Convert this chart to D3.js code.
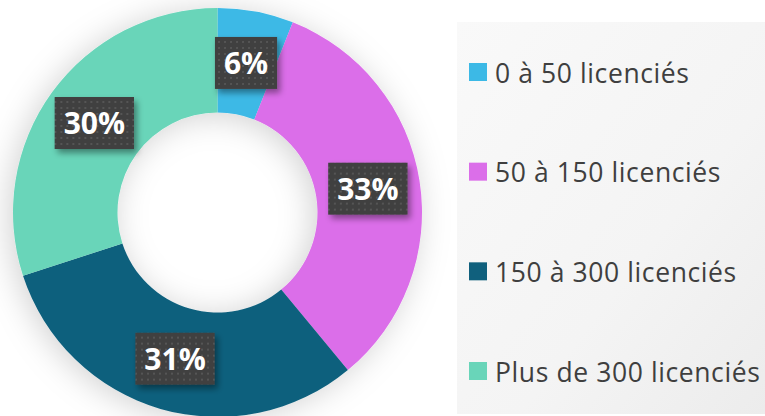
<!DOCTYPE html>
<html>
<head>
<meta charset="utf-8">
<script src="https://cdn.jsdelivr.net/npm/d3@7"></script>
<style>
  body { margin: 0; background: #ffffff; }
  svg { display: block; }
</style>
</head>
<body>
<script>
var w = 765;
var h = 416;

// categories, values and colours
var categories = ["0 à 50 licenciés", "50 à 150 licenciés", "150 à 300 licenciés", "Plus de 300 licenciés"];
var values = [6, 33, 31, 30];
var colors = ["#3cb9e6", "#db6ee9", "#10607d", "#69d5b9"];

var cx = 217.5, cy = 212.5;
var outerR = 204.5, innerR = 100;

var svg = d3.select("body")
            .append("svg")
            .attr("width", w)
            .attr("height", h);

var defs = svg.append("defs");

// soft grey glow around the ring
var glow = defs.append("filter")
    .attr("id", "glow")
    .attr("x", "-40%").attr("y", "-40%")
    .attr("width", "180%").attr("height", "180%");
glow.append("feDropShadow")
    .attr("dx", -4).attr("dy", 3)
    .attr("stdDeviation", 16)
    .attr("flood-color", "#000")
    .attr("flood-opacity", 0.18);

// drop shadow under the label boxes
var boxShadow = defs.append("filter")
    .attr("id", "boxShadow")
    .attr("x", "-30%").attr("y", "-30%")
    .attr("width", "160%").attr("height", "160%");
boxShadow.append("feDropShadow")
    .attr("dx", 3).attr("dy", 4)
    .attr("stdDeviation", 3)
    .attr("flood-color", "#000")
    .attr("flood-opacity", 0.4);

// dotted fill of the label boxes
var dots = defs.append("pattern")
    .attr("id", "dots")
    .attr("patternUnits", "userSpaceOnUse")
    .attr("width", 6).attr("height", 6);
dots.append("rect").attr("width", 6).attr("height", 6).attr("fill", "#404040");
dots.append("rect").attr("x", 2).attr("y", 2).attr("width", 2).attr("height", 2).attr("fill", "#545454");

// legend panel gradient
var lg = defs.append("linearGradient")
    .attr("id", "legendFill")
    .attr("x1", "0").attr("y1", "0")
    .attr("x2", "1").attr("y2", "1");
lg.append("stop").attr("offset", "0%").attr("stop-color", "#f9f9f9");
lg.append("stop").attr("offset", "60%").attr("stop-color", "#f4f4f4");
lg.append("stop").attr("offset", "100%").attr("stop-color", "#ececec");

//Pie layout, starting at 12 o'clock and going clockwise
var pie = d3.pie()
    .sort(null)
    .value(function(d) { return d; });

var arc = d3.arc()
    .innerRadius(innerR)
    .outerRadius(outerR);

var arcs = pie(values);

var donut = svg.append("g")
    .attr("transform", "translate(" + cx + "," + cy + ")");

donut.append("g")
    .attr("filter", "url(#glow)")
    .selectAll("path")
    .data(arcs)
    .enter()
    .append("path")
    .attr("d", arc)
    .attr("fill", function(d, i) { return colors[i]; });

// data labels in dark dotted boxes
var labels = donut.selectAll(".label")
    .data(arcs)
    .enter()
    .append("g")
    .attr("class", "label")
    .attr("transform", function(d) { return "translate(" + arc.centroid(d) + ")"; });

var boxes = labels.append("rect")
    .attr("fill", "url(#dots)")
    .attr("filter", "url(#boxShadow)");

var labelText = labels.append("text")
    .attr("text-anchor", "middle")
    .attr("y", 11)
    .attr("fill", "#ffffff")
    .attr("font-family", "'Open Sans', sans-serif")
    .attr("font-weight", "bold")
    .attr("font-size", "30px")
    .text(function(d) { return d.data + "%"; });

labelText.each(function(d, i) {
    var tw = this.getComputedTextLength();
    d3.select(boxes.nodes()[i])
        .attr("x", -(tw + 18) / 2)
        .attr("y", -26)
        .attr("width", tw + 18)
        .attr("height", 52);
});

//Legend
var legend = svg.append("g");

legend.append("rect")
    .attr("x", 457)
    .attr("y", 22)
    .attr("width", 308)
    .attr("height", 392)
    .attr("fill", "url(#legendFill)");

var rowY = d3.scalePoint()
    .domain(categories)
    .range([82.5, 381.5]);

var rows = legend.selectAll(".row")
    .data(categories)
    .enter()
    .append("g")
    .attr("class", "row")
    .attr("transform", function(d) { return "translate(469," + rowY(d) + ")"; });

rows.append("rect")
    .attr("y", -19.5)
    .attr("width", 18)
    .attr("height", 18)
    .attr("fill", function(d, i) { return colors[i]; });

rows.append("text")
    .attr("x", 26)
    .attr("fill", "#3f3f3f")
    .attr("font-family", "'Open Sans', sans-serif")
    .attr("font-size", "26.5px")
    .attr("letter-spacing", "0.6px")
    .text(function(d) { return d; });
</script>
</body>
</html>
